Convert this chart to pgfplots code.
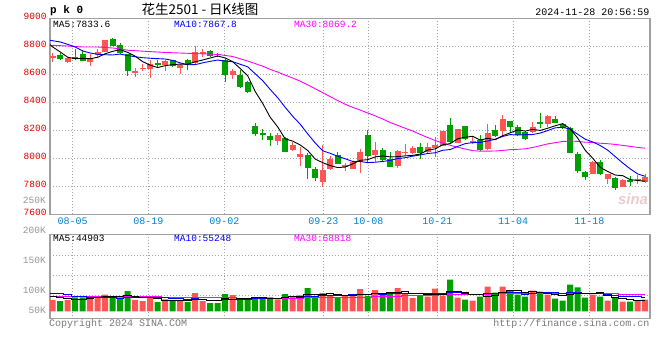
\documentclass[border=0pt]{standalone}
\usepackage{pgfplots}
\pgfplotsset{compat=1.18}
\usepackage{pgfplotstable}
\usepackage{fontspec}
\setmainfont{Liberation Mono}
\newfontfamily\cjk{Noto Sans CJK SC}
\newfontfamily\sansf{Liberation Sans}
\definecolor{upred}{RGB}{255,85,85}
\definecolor{dngreen}{RGB}{0,160,0}
\definecolor{labred}{RGB}{225,0,0}
\definecolor{labblue}{RGB}{0,128,210}
\definecolor{gridgray}{RGB}{165,165,165}
\definecolor{bordergray}{RGB}{160,160,160}
\definecolor{txtgray}{RGB}{150,150,150}
\definecolor{magma}{RGB}{255,0,255}
\definecolor{mablue}{RGB}{0,0,255}
\definecolor{wmark}{RGB}{232,205,205}

\pgfplotstableread{
x o h l c v
0 8722 8752 8688 8730 48
2 8688 8724 8681 8717 48
5 8688 8748 8662 8719 59
6 8736 8783 8724 8762 57
7 8760 8848 8760 8843 70
11 8614 8648 8581 8626 48
12 8638 8676 8624 8648 43
13 8636 8705 8574 8676 55
15 8667 8705 8624 8693 50
17 8648 8676 8602 8669 45
19 8679 8802 8669 8757 76
20 8750 8779 8726 8755 43
24 8598 8640 8564 8624 68
30 8126 8179 8098 8167 50
32 8060 8114 8055 8098 64
33 8012 8079 7945 8033 67
36 7833 8095 7798 7917 76
37 7924 8017 7917 7995 69
39 7940 7964 7912 7952 66
40 7924 7976 7924 7976 66
41 7976 8067 7898 8043 93
43 8024 8117 7971 8060 89
46 7948 8060 7933 8052 97
47 8041 8102 8024 8048 76
48 8036 8090 8029 8076 56
50 8048 8112 8029 8083 62
51 8071 8155 8012 8093 95
52 8090 8195 8090 8195 66
54 8112 8210 8107 8210 57
56 8107 8150 8102 8126 45
58 8067 8245 8060 8181 104
60 8198 8310 8162 8281 104
64 8186 8262 8179 8221 87
66 8245 8310 8226 8305 70
72 7890 7981 7888 7974 70
74 7852 7888 7817 7888 45
76 7798 7852 7793 7845 41
78 7845 7879 7817 7852 45
79 7833 7888 7821 7864 49
}\upTable

\pgfplotstableread{
x o h l c v
1 8736 8752 8700 8710 43
3 8720 8778 8700 8715 59
4 8743 8776 8695 8695 59
8 8850 8862 8802 8802 56
9 8807 8826 8748 8752 59
10 8743 8748 8588 8624 85
14 8681 8705 8648 8667 39
16 8700 8705 8652 8660 45
18 8705 8712 8631 8669 39
21 8767 8774 8726 8733 34
22 8745 8755 8721 8740 34
23 8702 8710 8548 8598 72
25 8595 8631 8505 8512 55
26 8545 8555 8464 8476 48
27 8231 8250 8162 8176 56
28 8176 8212 8133 8171 58
29 8160 8179 8088 8131 58
31 8143 8150 8043 8048 72
34 8024 8040 7852 7933 97
35 7924 7940 7840 7862 56
38 8024 8043 7960 7962 60
42 8167 8202 7976 8019 65
44 8060 8076 7981 7988 70
45 7993 8048 7940 7940 76
49 8083 8107 7993 8036 64
53 8238 8286 8107 8117 133
55 8231 8231 8131 8138 49
57 8131 8167 8055 8060 62
59 8202 8238 8155 8160 78
61 8267 8267 8179 8226 87
62 8221 8238 8160 8167 70
63 8190 8195 8131 8138 62
65 8260 8321 8214 8243 83
67 8281 8302 8250 8255 53
68 8243 8250 8207 8214 45
69 8214 8226 8036 8036 112
70 8031 8043 7893 7912 100
71 7900 7910 7845 7869 57
73 7974 7988 7881 7886 62
75 7857 7864 7774 7786 57
77 7843 7874 7802 7836 41
}\downTable

\pgfplotstableread{
x m5 m10 m30
-0.36 8812 8843 8808
0 8795 8840 8807
1 8760 8831 nan
2 8722 8814 8802
3 8712 8795 nan
4 8713.4 8767 8795
5 8711.2 8752 nan
6 8721.6 8743 8795
7 8746.8 8740 nan
8 8764.2 8738 8788
9 8775.6 8744.5 nan
10 8756.6 8733.9 8772
11 8729.4 8725.5 nan
12 8690.4 8718.6 nan
13 8665.2 8714.7 8762
14 8648.2 8711.9 nan
15 8662 8709.3 8756
16 8668.8 8699.1 nan
17 8673 8681.7 nan
18 8671.6 8668.4 nan
19 8689.6 8668.9 8748
20 8702 8682 nan
21 8716.6 8692.7 nan
22 8730.8 8701.9 8742
23 8716.6 8694.1 nan
24 8690 8689.8 8727
25 8641.4 8671.7 nan
26 8590 8653.3 8695
27 8477.2 8604 nan
28 8391.8 8554.2 8658
29 8293.2 8491.6 8635
30 8224.2 8432.8 8616.2
31 8138.6 8364.3 8594.2
32 8123 8300.1 8573.5
33 8095.4 8243.6 8550.8
34 8055.8 8174.5 8525.4
35 7994.8 8109.5 8496.8
36 7968.6 8053.6 8468.7
37 7948 8035.5 8440.4
38 7933.8 8014.6 8412.4
39 7937.6 7996.7 8385.7
40 7960.4 7977.6 8364.1
41 7985.6 7977.1 8344.7
42 7990.4 7969.2 8323.7
43 8010 7971.9 8303.2
44 8017.2 7977.4 8280.6
45 8010 7985.2 8255.5
46 8011.8 7998.7 8235.2
47 8017.6 8004 8214.5
48 8020.8 8015.4 8194.7
49 8030.4 8023.8 8170.7
50 8059 8034.5 8148.3
51 8067.2 8039.5 8127
52 8096.6 8057.1 8108.8
53 8104.8 8062.8 8092.8
54 8139.6 8085 8079
55 8150.6 8104.8 8066.5
56 8157.2 8112.2 8054.8
57 8130.2 8113.4 8051
58 8143 8123.9 8051.3
59 8133 8136.3 8052.3
60 8161.6 8156.1 8056.1
61 8181.6 8169.4 8062
62 8203 8166.6 8064.3
63 8194.4 8168.7 8067.8
64 8206.6 8169.8 8077.4
65 8199 8180.3 8090.1
66 8214.8 8198.2 8103
67 8232.4 8217.7 8111.7
68 8247.6 8221 8120.1
69 8210.6 8208.6 8122.9
70 8144.4 8171.7 8120.8
71 8057.2 8136 8115
72 8001 8116.7 8113.5
73 7935.4 8091.5 8107.7
74 7905.8 8058.2 8104.3
75 7880.6 8012.5 8099.2
76 7875.8 7966.5 8092.3
77 7848.2 7924.6 8085.2
78 7841.4 7888.4 8077.8
79 7836.6 7871.2 8072
}\maTable

\pgfplotstableread{
x v5 v10 v30
-0.36 64 74 64
0 64 73 64
1 60 73 nan
2 52 72 63
3 50 62 nan
4 51.4 61 nan
5 53.6 60 nan
6 56.4 59 nan
7 60.8 58 62
8 60.2 57 nan
9 60.2 55.8 nan
10 65.4 59.5 nan
11 63.6 60 nan
12 58.2 59.5 61
13 58 59.1 nan
14 54 57.1 nan
15 47 56.2 nan
16 46.4 55 nan
17 46.8 52.5 60
18 43.6 50.8 nan
19 51 52.5 nan
20 49.6 48.3 58
21 47.4 46.9 nan
22 45.2 46 nan
23 51.8 47.7 57
24 50.2 50.6 nan
25 52.6 51.1 nan
26 55.4 51.4 55
27 59.8 52.5 nan
28 57 54.4 54
29 55 52.6 53.6
30 54 53.3 53.7
31 58.8 57.1 54.7
32 60.4 60.1 55.2
33 62.2 59.6 55.5
34 70 62.5 56.7
35 71.2 62.6 56.6
36 72 65.4 57.3
37 73 66.7 57.2
38 71.6 66.9 57.4
39 65.4 67.7 57.6
40 67.4 69.3 57
41 70.8 71.4 58.5
42 70 71.5 59.2
43 75.8 73.7 60.3
44 76.6 71 61.4
45 78.6 73 62.2
46 79.4 75.1 64
47 81.6 75.8 65
48 75 75.4 65.6
49 73.8 75.2 65.2
50 71 74.8 65.8
51 70.6 75 67.8
52 68.6 75.1 68.9
53 84 79.5 70.9
54 82.6 78.2 70.6
55 80 75.5 70.4
56 70 70.3 70.3
57 69.2 68.9 70.5
58 63.4 73.7 72
59 67.6 75.1 72.7
60 78.6 79.3 74.5
61 87 78.5 75
62 88.6 78.9 75.2
63 80.2 71.8 75
64 82 74.8 74.7
65 77.8 78.2 75.6
66 74.4 80.7 75.4
67 71 79.8 74.8
68 67.6 73.9 74.3
69 72.6 77.3 75.9
70 76 76.9 77
71 73.4 73.9 75.8
72 76.8 73.9 76
73 80.2 73.9 75.1
74 66.8 69.7 74.2
75 58.2 67.1 73.6
76 55 64.2 71.7
77 49.2 63 70.6
78 45.8 63 70.2
79 46.6 56.7 69.7
}\vmaTable

\pgfplotsset{
  kbase/.style={
    scale only axis, width=600pt,
    xmin=-0.36, xmax=79.64,
    xtick={2.67,12.77,22.9,36.08,42.08,51.28,61.4,71.55},
    major tick length=0pt,
    grid=major,
    grid style={gridgray, dash pattern=on 1pt off 2pt, line width=0.8pt},
    axis line style={bordergray, line width=1.3pt},
    /pgf/number format/assume math mode=true,
    /pgf/number format/1000 sep={},
    unbounded coords=discard,
  },
  wick/.style={draw=none, mark=none, forget plot,
    error bars/.cd, y dir=both, y explicit, error mark=none,
    error bar style={draw=#1, line width=1pt}},
  body/.style={draw=none, mark=none, forget plot,
    error bars/.cd, y dir=both, y explicit, error mark=none,
    error bar style={draw=#1, line width=5.7pt}},
}

\begin{document}
\begin{tikzpicture}
\path[use as bounding box] (0pt,0pt) rectangle (660pt,360pt);

\begin{axis}[kbase,
  at={(50pt,145.7pt)}, anchor=south west, height=196pt,
  ymin=7600, ymax=9000,
  ytick={7600,7800,8000,8200,8400,8600,8800,9000},
  xticklabels={08-05,08-19,09-02,09-23,10-08,10-21,11-04,11-18},
  xticklabel style={labblue, font=\fontsize{10}{10}\selectfont},
  yticklabel style={labred, font=\fontsize{9.5}{9.5}\selectfont, yshift=2pt},
]
\addplot[wick=upred] table[x=x, y expr={(\thisrow{h}+\thisrow{l})/2}, y error expr={(\thisrow{h}-\thisrow{l})/2}] \upTable;
\addplot[wick=dngreen] table[x=x, y expr={(\thisrow{h}+\thisrow{l})/2}, y error expr={(\thisrow{h}-\thisrow{l})/2}] \downTable;
\addplot[body=upred] table[x=x, y expr={(\thisrow{o}+\thisrow{c})/2}, y error expr={max(abs(\thisrow{c}-\thisrow{o})/2,4)}] \upTable;
\addplot[body=dngreen] table[x=x, y expr={(\thisrow{o}+\thisrow{c})/2}, y error expr={max(abs(\thisrow{c}-\thisrow{o})/2,4)}] \downTable;
\addplot[magma, line width=0.9pt, mark=none] table[x=x, y=m30] \maTable;
\addplot[mablue, line width=0.9pt, mark=none] table[x=x, y=m10] \maTable;
\addplot[black, line width=0.9pt, mark=none] table[x=x, y=m5] \maTable;
\end{axis}

\begin{axis}[kbase,
  at={(50pt,41.3pt)}, anchor=south west, height=84pt,
  ymin=-31.1, ymax=321.7,
  ytick={67.2,151.2,236.5}, yticklabels={},
  xticklabels={},
]
\addplot[ybar, bar width=6pt, bar shift=0pt, fill=upred, draw=none, forget plot] table[x=x, y=v] \upTable;
\addplot[ybar, bar width=6pt, bar shift=0pt, fill=dngreen, draw=none, forget plot] table[x=x, y=v] \downTable;
\addplot[magma, line width=1pt, mark=none, const plot mark mid] table[x=x, y=v30] \vmaTable;
\addplot[mablue, line width=1pt, mark=none, const plot mark mid] table[x=x, y=v10] \vmaTable;
\addplot[black, line width=1pt, mark=none, const plot mark mid] table[x=x, y=v5] \vmaTable;
\end{axis}

% titles
\node[anchor=west, inner sep=0pt, font=\bfseries\fontsize{11}{11}\selectfont] at (50pt,349pt) {p k 0};
\node[inner sep=0pt, font=\cjk\fontsize{13.5}{13.5}\selectfont] at (200pt,350.5pt) {花生2501 - 日K线图};
\node[anchor=east, inner sep=0pt, font=\fontsize{10}{10}\selectfont] at (649.5pt,348pt) {2024-11-28 20:56:59};
% legends
\node[anchor=west, inner sep=0pt, font=\fontsize{9.5}{9.5}\selectfont] at (53pt,336pt) {MA5:7833.6};
\node[anchor=west, inner sep=0pt, text=mablue, font=\fontsize{9.5}{9.5}\selectfont] at (174pt,336pt) {MA10:7867.8};
\node[anchor=west, inner sep=0pt, text=magma, font=\fontsize{9.5}{9.5}\selectfont] at (294pt,336pt) {MA30:8069.2};
\node[anchor=west, inner sep=0pt, font=\fontsize{9.5}{9.5}\selectfont] at (53pt,122pt) {MA5:44903};
\node[anchor=west, inner sep=0pt, text=mablue, font=\fontsize{9.5}{9.5}\selectfont] at (174pt,122pt) {MA10:55248};
\node[anchor=west, inner sep=0pt, text=magma, font=\fontsize{9.5}{9.5}\selectfont] at (294pt,122pt) {MA30:68818};
% volume scale labels
\node[anchor=east, inner sep=0pt, text=txtgray, font=\fontsize{9.5}{9.5}\selectfont] at (46pt,160pt) {250K};
\node[anchor=east, inner sep=0pt, text=txtgray, font=\fontsize{9.5}{9.5}\selectfont] at (46pt,130pt) {200K};
\node[anchor=east, inner sep=0pt, text=txtgray, font=\fontsize{9.5}{9.5}\selectfont] at (46pt,100pt) {150K};
\node[anchor=east, inner sep=0pt, text=txtgray, font=\fontsize{9.5}{9.5}\selectfont] at (46pt,70pt) {100K};
\node[anchor=east, inner sep=0pt, text=txtgray, font=\fontsize{9.5}{9.5}\selectfont] at (46pt,50pt) {50K};
% footer
\node[anchor=west, inner sep=0pt, text=txtgray!80!black, font=\fontsize{10}{10}\selectfont] at (49pt,36pt) {Copyright 2024 SINA.COM};
\node[anchor=east, inner sep=0pt, text=txtgray!80!black, font=\fontsize{10}{10}\selectfont] at (649.5pt,36pt) {http://finance.sina.com.cn};
% watermark
\node[inner sep=0pt, text=wmark, font=\sansf\bfseries\itshape\fontsize{15}{15}\selectfont] at (633pt,161pt) {sina};
\end{tikzpicture}
\end{document}
